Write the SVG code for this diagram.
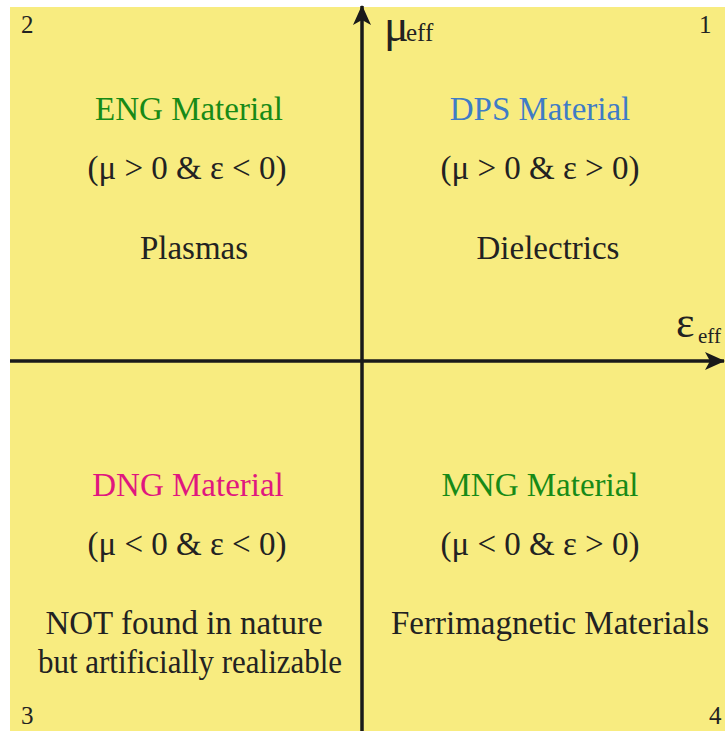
<svg xmlns="http://www.w3.org/2000/svg" width="725" height="731" viewBox="0 0 725 731">
<defs>
<style>
text{fill:#222;font-family:"Liberation Serif","Times New Roman",serif}
.t{font-size:33px;text-anchor:middle}
.n{font-size:25px}
.g{fill:#178a17}
.b{fill:#3f7cc6}
.m{fill:#e0177f}
.ax{stroke:#1a1a1a;stroke-width:3.5;fill:none}
</style>
<marker id="ah" viewBox="0 0 20 20" refX="19" refY="10" markerWidth="20" markerHeight="20" markerUnits="userSpaceOnUse" orient="auto">
<path d="M0,1 L20,10 L0,19 L5,10 Z" fill="#1a1a1a"/>
</marker>
</defs>
<rect x="10" y="7" width="715" height="724" fill="#f8ec80"/>
<g id="connectors">
<line class="ax" x1="362" y1="731" x2="362" y2="6" marker-end="url(#ah)"/>
<line class="ax" x1="10" y1="361" x2="724" y2="361" marker-end="url(#ah)"/>
</g>
<g id="axis-mu"><text x="384" y="41" font-size="46">μ</text><text x="406" y="41" font-size="25">eff</text></g>
<g id="axis-eps"><text x="676" y="337" font-size="44">ε</text><text x="698" y="343" font-size="21">eff</text></g>
<g id="q1"><text class="n" x="699" y="33">1</text>
<text class="t b" x="540" y="120">DPS Material</text>
<text class="t" x="540" y="179">(μ &gt; 0 &amp; ε &gt; 0)</text>
<text class="t" x="548" y="259">Dielectrics</text></g>
<g id="q2"><text class="n" x="21" y="33">2</text>
<text class="t g" x="189" y="120">ENG Material</text>
<text class="t" x="187" y="179">(μ &gt; 0 &amp; ε &lt; 0)</text>
<text class="t" x="194" y="259">Plasmas</text></g>
<g id="q3"><text class="n" x="21" y="724">3</text>
<text class="t m" x="188" y="496">DNG Material</text>
<text class="t" x="187" y="555">(μ &lt; 0 &amp; ε &lt; 0)</text>
<text class="t" x="184" y="634">NOT found in nature</text>
<text class="t" x="190" y="673" textLength="304" lengthAdjust="spacingAndGlyphs">but artificially realizable</text></g>
<g id="q4"><text class="n" x="709" y="724">4</text>
<text class="t g" x="540" y="496">MNG Material</text>
<text class="t" x="540" y="555">(μ &lt; 0 &amp; ε &gt; 0)</text>
<text class="t" x="550" y="634">Ferrimagnetic Materials</text></g>
</svg>
